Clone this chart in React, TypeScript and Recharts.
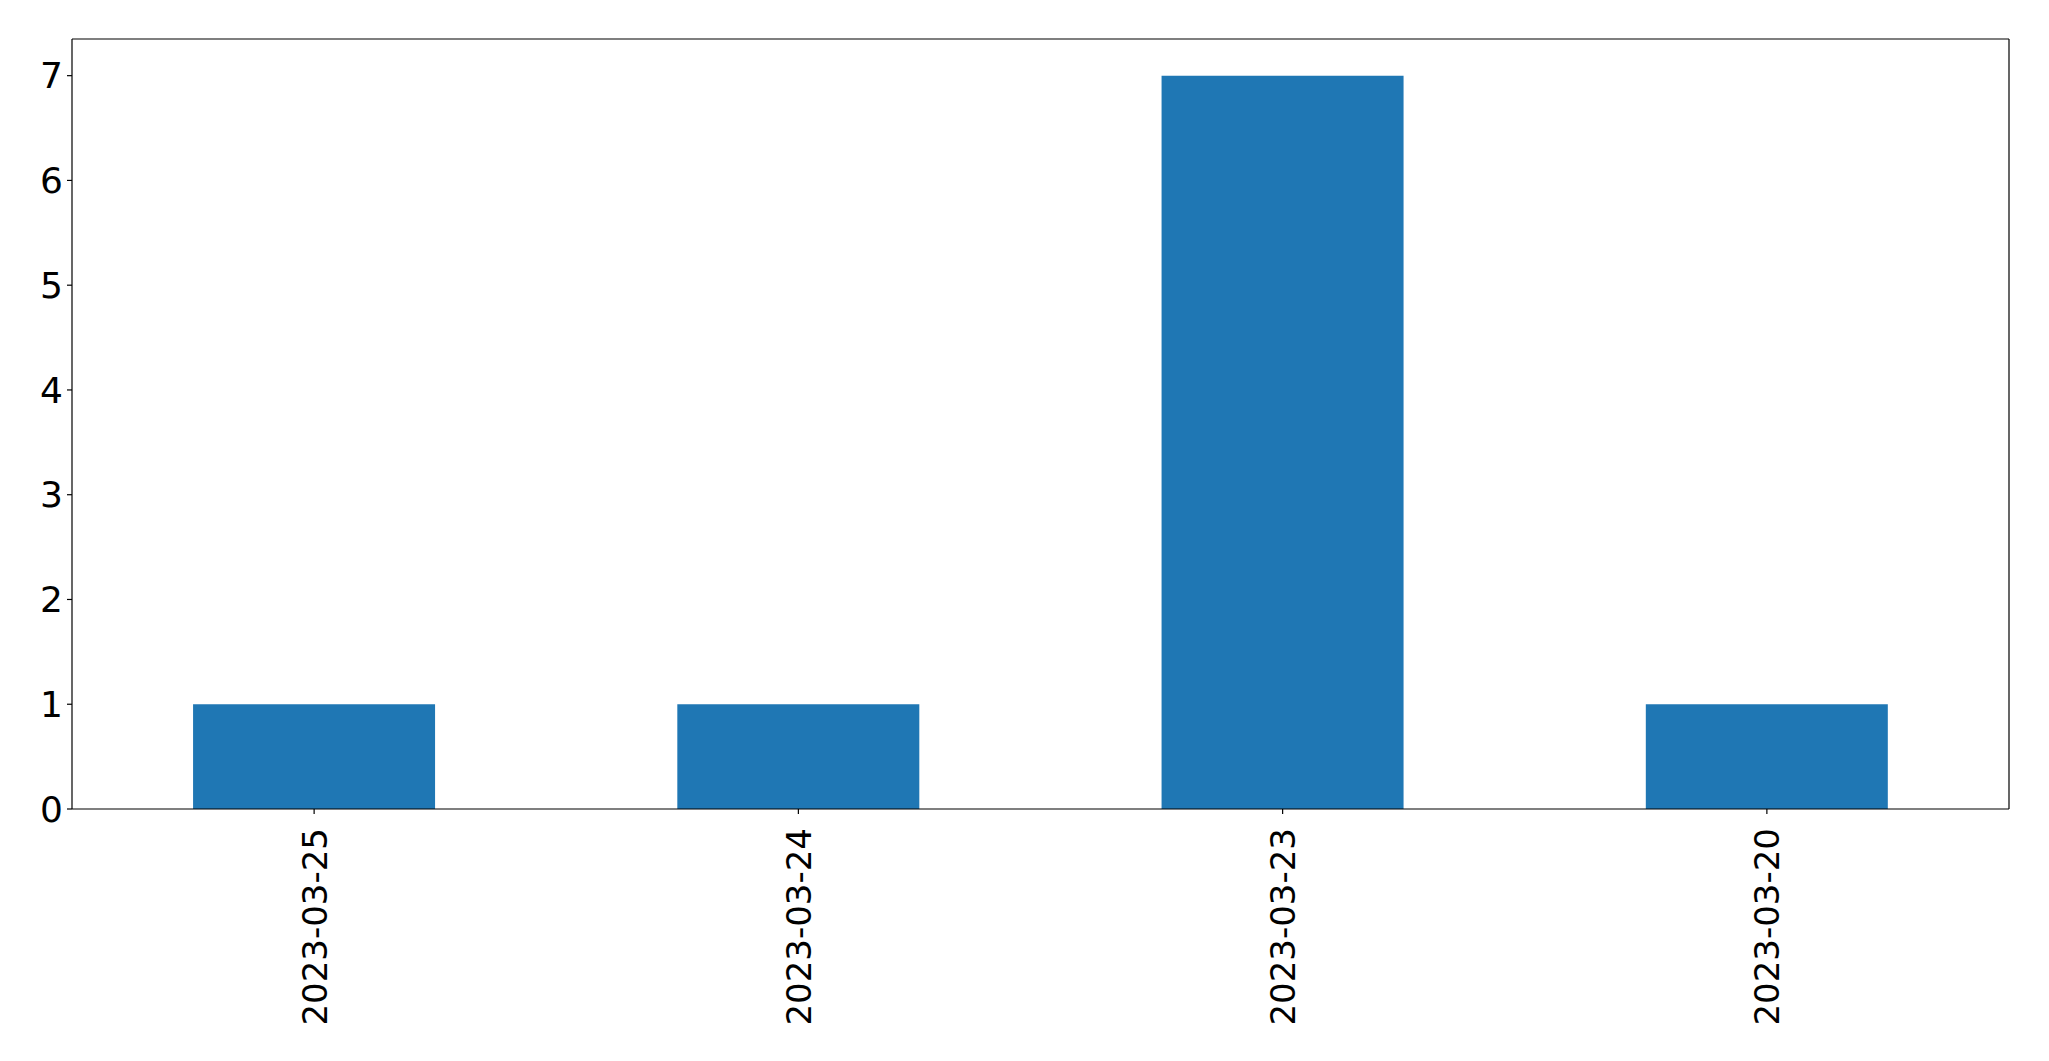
import React from 'react';
import { BarChart, Bar, XAxis, YAxis, CartesianGrid } from 'recharts';

const categories: string[] = ['2023-03-25', '2023-03-24', '2023-03-23', '2023-03-20'];
const counts: number[] = [1, 1, 7, 1];
const yTicks: number[] = [0, 1, 2, 3, 4, 5, 6, 7];

const data = categories.map((c, i) => ({ date: c, count: counts[i] }));

const FONT = '"DejaVu Sans", sans-serif';

const XTick = (props: any) => {
  const { x, y, payload } = props;
  return (
    <text
      x={x}
      y={y}
      transform={`rotate(-90, ${x}, ${y})`}
      textAnchor="end"
      dy="0.37em"
      fontSize={34}
      fontFamily={FONT}
      fill="#000"
    >
      {payload.value}
    </text>
  );
};

export default function App() {
  return (
    <div style={{ position: 'absolute', left: 0, top: 0, width: 2049, height: 1061, background: '#fff' }}>
      <BarChart
        width={2049}
        height={1061}
        data={data}
        margin={{ top: 39, right: 40, left: 0, bottom: 0 }}
        barCategoryGap="25%"
      >
        <CartesianGrid
          stroke="#000"
          strokeWidth={1.2}
          horizontalCoordinatesGenerator={(p: any) => [p.offset.top]}
          verticalCoordinatesGenerator={(p: any) => [p.offset.left + p.offset.width]}
        />
        <XAxis
          dataKey="date"
          height={252}
          interval={0}
          axisLine={{ stroke: '#000', strokeWidth: 1.2 }}
          tickLine={{ stroke: '#000', strokeWidth: 1.2 }}
          tickSize={5}
          tickMargin={14}
          tick={<XTick />}
        />
        <YAxis
          width={72}
          domain={[0, 7.35]}
          ticks={yTicks}
          interval={0}
          allowDataOverflow
          axisLine={{ stroke: '#000', strokeWidth: 1.2 }}
          tickLine={{ stroke: '#000', strokeWidth: 1.2 }}
          tickSize={5}
          tickMargin={4}
          tick={{ fill: '#000', fontSize: 36, fontFamily: FONT }}
        />
        <Bar dataKey="count" fill="#1f77b4" isAnimationActive={false} />
      </BarChart>
    </div>
  );
}
